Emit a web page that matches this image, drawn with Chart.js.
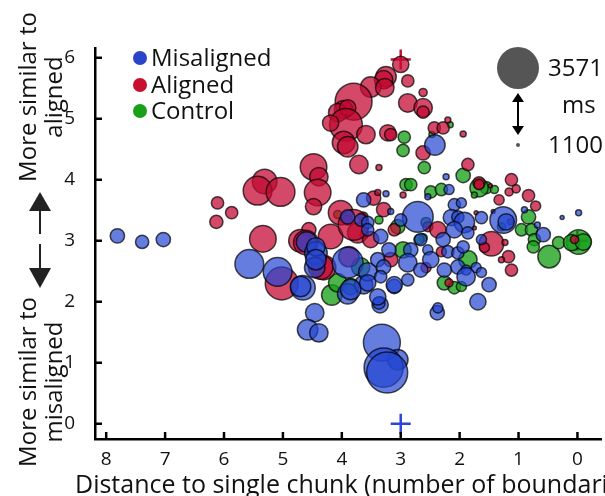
<!DOCTYPE html>
<html>
<head>
<meta charset="utf-8">
<title>Chunk distance bubble chart</title>
<script src="https://cdn.jsdelivr.net/npm/chart.js"></script>
<style>
  body { margin: 0; background: #fff; }
  #wrap { position: relative; width: 605px; height: 496px; overflow: hidden; font-family: "Open Sans", sans-serif; color: #111; }
  #chart { position: absolute; left: 0; top: 0; }
  .lbl { position: absolute; white-space: nowrap; font-size: 24px; line-height: 26px; }
  .side { position: absolute; text-align: center; font-size: 24px; line-height: 26px; transform: rotate(-90deg); white-space: nowrap; }
  .dot { position: absolute; width: 14px; height: 14px; border-radius: 50%; }
  #xtitle { position: absolute; left: 75px; top: 467px; font-size: 25px; line-height: 32px; white-space: nowrap; }
</style>
</head>
<body>
<div id="wrap">
  <canvas id="chart" width="605" height="496"></canvas>
  <div class="side" style="left:-60px; top:71px; width:200px;">More similar to<br>aligned</div>
  <div class="side" style="left:-60px; top:356px; width:200px;">More similar to<br>misaligned</div>
  <div class="dot" style="left:133px; top:51px; background:#2a45c8;"></div>
  <div class="lbl" style="left:151px; top:44px;">Misaligned</div>
  <div class="dot" style="left:133px; top:78px; background:#c8102e;"></div>
  <div class="lbl" style="left:151px; top:71px;">Aligned</div>
  <div class="dot" style="left:133px; top:104px; background:#18a018;"></div>
  <div class="lbl" style="left:151px; top:97px;">Control</div>
  <div class="lbl" style="left:548px; top:54px;">3571</div>
  <div class="lbl" style="left:562px; top:91px;">ms</div>
  <div class="lbl" style="left:548px; top:131px;">1100</div>
  <div id="xtitle">Distance to single chunk (number of boundaries)</div>
</div>
<script>
// distance to single chunk (x), similarity score (y), duration in ms (bubble size)
var misX = [7.81, 7.39, 7.03, 5.57, 5.09, 4.66, 4.60, 4.44, 4.46, 3.90, 3.63, 3.35, 3.11, 4.46, 4.58, 4.39,
  3.32, 3.05, 3.29, 3.23, 2.38, 1.69, 1.50, 2.42, 2.23, 2.71, 2.18, 2.54, 3.63, 3.25, 3.17, 2.09, 1.97,
  3.90, 3.68, 3.56, 3.00, 2.14, 2.03, 1.92, 2.09, 1.86, 3.34, 3.20, 2.83, 2.66, 2.54, 2.28, 2.20, 2.03,
  1.94, 3.90, 3.56, 3.39, 3.29, 2.88, 2.49, 2.66, 2.26, 2.03, 1.89, 3.85, 3.56, 3.34, 3.11, 2.88, 3.37,
  2.37, 1.63, 1.26, 1.21, 0.90, 0.68, 0.58, 1.63, 0.26, -0.02, 1.72, 1.63, 1.89, 4.44, 4.44, 4.70, 3.39, 3.56];
var misY = [3.08, 2.98, 3.02, 2.62, 2.49, 2.23, 2.98, 2.80, 2.56, 2.13, 2.28, 1.95, 2.25, 1.82, 1.54, 1.49,
  1.33, 1.05, 0.92, 0.84, 1.82, 2.00, 2.28, 4.57, 4.05, 3.39, 3.84, 3.72, 3.67, 3.77, 3.48, 3.59, 3.62,
  3.39, 3.34, 3.30, 3.34, 3.38, 3.39, 3.30, 3.18, 3.13, 3.07, 2.85, 2.85, 3.02, 2.85, 3.02, 2.82, 2.80,
  2.90, 2.64, 2.49, 2.69, 2.57, 2.64, 2.69, 2.52, 2.52, 2.57, 2.52, 2.20, 2.31, 2.41, 2.28, 2.36, 1.98,
  1.90, 3.38, 3.34, 3.31, 3.51, 3.26, 3.10, 3.02, 3.38, 3.46, 2.56, 2.48, 2.41, 2.90, 2.69, 2.25, 2.08, 3.18];
var misMs = [1770, 1700, 1770, 2710, 2710, 2440, 2170, 2310, 2170, 2170, 2040, 1900, 1770, 2040, 2170, 2040,
  3240, 2170, 3380, 3510, 1770, 1900, 1770, 2170, 1230, 2840, 1500, 1230, 1770, 1230, 1230, 1640, 1500,
  1770, 1640, 1640, 1640, 1900, 1640, 2170, 1900, 1640, 1770, 1770, 1770, 1640, 1500, 1770, 1640, 1640,
  1640, 2840, 2040, 1770, 1770, 2040, 1900, 1770, 1770, 1770, 1500, 2170, 1900, 1640, 1900, 1640, 1640,
  1500, 1640, 2570, 1900, 1230, 1230, 1770, 1500, 1100, 1230, 1500, 1500, 2040, 2040, 2170, 2170, 1900, 1640];

var aliX = [6.11, 5.87, 6.13, 5.31, 5.43, 5.04, 5.34, 4.48, 4.39, 4.41, 4.48, 4.56, 4.71, 5.02, 4.31, 3.00,
  3.25, 3.29, 3.51, 3.27, 2.88, 3.80, 3.97, 4.07, 3.90, 3.93, 4.19, 3.97, 3.90, 3.59, 2.88, 2.62, 2.62,
  2.62, 3.22, 3.17, 2.62, 2.43, 2.28, 3.71, 3.37, 1.94, 2.20, 1.86, 1.12, 1.67, 2.96, 3.46, 3.39, 3.29,
  4.02, 3.90, 3.64, 3.11, 2.54, 2.37, 4.19, 3.73, 3.51, 3.80, 2.31, 3.17, 2.57, 2.18, 1.67, 1.16, 1.04,
  1.33, 0.83, 0.71, 1.48, 1.72, 1.43, 1.14, 1.75, 1.46, 1.58, 1.23, 0.05, 1.17, 1.29, 1.12, 4.61, 4.36, 3.88];
var aliY = [3.62, 3.46, 3.31, 3.97, 3.82, 3.80, 3.03, 4.21, 4.05, 3.79, 3.56, 3.18, 3.00, 2.30, 2.56, 5.89,
  5.69, 5.64, 5.52, 5.51, 5.62, 5.28, 5.15, 5.10, 5.18, 4.90, 4.93, 4.61, 4.54, 4.74, 5.26, 5.43, 5.18,
  5.11, 4.77, 4.74, 4.44, 4.85, 4.85, 4.25, 4.20, 4.75, 4.98, 4.25, 4.00, 3.95, 3.75, 3.70, 3.79, 3.51,
  3.46, 3.34, 3.39, 3.18, 3.23, 3.18, 3.07, 3.13, 3.02, 3.26, 2.82, 2.69, 2.56, 2.31, 3.92, 3.80, 3.85,
  3.67, 3.74, 3.57, 3.90, 3.46, 3.48, 3.31, 3.21, 2.95, 2.89, 2.97, 3.02, 2.74, 2.69, 2.52, 2.97, 2.57, 2.74];
var aliMs = [1640, 1640, 1700, 2440, 2710, 2710, 2570, 2570, 2040, 2570, 1900, 1770, 2310, 2980, 2440, 1900,
  2170, 2040, 2170, 2040, 1640, 3240, 2040, 2040, 1900, 2980, 1900, 2310, 2170, 2040, 2040, 1370, 2040,
  1640, 1900, 1640, 1770, 1640, 1640, 2040, 1230, 1230, 1230, 1640, 1640, 1640, 1230, 1770, 1230, 1770,
  2440, 1500, 1500, 1640, 1500, 1900, 2440, 2170, 1900, 2840, 1500, 1770, 1500, 1370, 1500, 1370, 1370,
  1500, 1640, 1500, 1100, 1100, 1100, 1230, 1100, 2440, 1500, 1230, 1370, 1640, 1230, 1640, 2440, 2440, 2170];

var conX = [2.94, 2.96, 2.60, 2.47, 2.16, 1.94, 1.55, 4.17, 0.48, 2.91, 2.83, 2.49, 2.31, 4.07, 3.37, 3.05,
  2.57, 2.96, 2.62, 3.68, 4.07, 2.26, 2.09, 1.67, 1.75, 1.41, 1.29, 0.83, 0.95, 0.78, 0.73, 0.75, 0.32,
  -0.02, 0.10, -0.10, 1.86, 1.97, 3.85, 3.62, 2.69];
var conY = [4.70, 4.48, 4.20, 4.74, 4.90, 4.07, 3.87, 2.11, 2.74, 3.92, 3.92, 3.80, 3.84, 3.43, 3.34, 3.23,
  3.30, 2.85, 3.05, 2.57, 2.31, 2.31, 2.23, 3.87, 3.75, 3.84, 3.23, 3.39, 3.18, 3.18, 3.02, 2.90, 2.97,
  2.98, 2.97, 2.98, 2.69, 2.25, 2.25, 3.10, 3.02];
var conMs = [1640, 1640, 1640, 1230, 1230, 1770, 1640, 2170, 2310, 1640, 1640, 1640, 1640, 1370, 1370, 1770,
  1500, 1900, 1370, 2040, 2040, 1770, 1640, 2040, 1230, 1370, 1370, 1770, 1640, 1640, 1640, 1640, 1640,
  2440, 1900, 1900, 2040, 1500, 1900, 1370, 1500];

// group means drawn as crosses
var meanLabels = ['Misaligned', 'Aligned', 'Control'];
var meanX = [3, 3, 0];
var meanY = [0, 5.97, 3];

var xTicks = [0, 1, 2, 3, 4, 5, 6, 7, 8];
var yTicks = [0, 1, 2, 3, 4, 5, 6];
var msMin = 1100, msMax = 3571;

function rOf(ms) {
  return 2 + (ms - msMin) / (msMax - msMin) * 19;
}
function pts(xs, ys, ms) {
  return xs.map(function (x, i) { return { x: x, y: ys[i], r: rOf(ms[i]) }; });
}

var fontFam = '"Open Sans", sans-serif';

// inward ticks, side arrows and size key
var extras = {
  id: 'extras',
  afterDraw: function (chart) {
    var c = chart.ctx, xs = chart.scales.x, ys = chart.scales.y;
    var area = chart.chartArea;
    c.save();
    c.strokeStyle = '#000';
    c.lineWidth = 2.5;
    xTicks.forEach(function (v) {
      var px = xs.getPixelForValue(v);
      c.beginPath(); c.moveTo(px, area.bottom); c.lineTo(px, area.bottom - 7); c.stroke();
    });
    yTicks.forEach(function (v) {
      var py = ys.getPixelForValue(v);
      c.beginPath(); c.moveTo(area.left, py); c.lineTo(area.left + 7, py); c.stroke();
    });

    // up / down arrows beside the y axis
    c.fillStyle = '#222';
    c.strokeStyle = '#222';
    c.lineWidth = 2;
    c.beginPath(); c.moveTo(40, 192); c.lineTo(51, 211); c.lineTo(29, 211); c.closePath(); c.fill();
    c.beginPath(); c.moveTo(40, 210); c.lineTo(40, 234); c.stroke();
    c.beginPath(); c.moveTo(40, 244); c.lineTo(40, 269); c.stroke();
    c.beginPath(); c.moveTo(40, 288); c.lineTo(51, 268); c.lineTo(29, 268); c.closePath(); c.fill();

    // size key
    c.fillStyle = '#555';
    c.beginPath(); c.arc(518, 68, rOf(msMax), 0, Math.PI * 2); c.fill();
    c.beginPath(); c.arc(518, 145, rOf(msMin), 0, Math.PI * 2); c.fill();
    c.strokeStyle = '#000';
    c.fillStyle = '#000';
    c.beginPath(); c.moveTo(518, 96); c.lineTo(518, 132); c.stroke();
    c.beginPath(); c.moveTo(518, 93); c.lineTo(524, 102); c.lineTo(512, 102); c.closePath(); c.fill();
    c.beginPath(); c.moveTo(518, 135); c.lineTo(524, 126); c.lineTo(512, 126); c.closePath(); c.fill();
    c.restore();
  }
};

var border = 'rgba(0,0,0,0.7)';

new Chart(document.getElementById('chart').getContext('2d'), {
  type: 'bubble',
  data: {
    datasets: [
      { label: 'Misaligned', data: pts(misX, misY, misMs), backgroundColor: 'rgba(35,70,210,0.7)', borderColor: border, borderWidth: 1.5 },
      { label: 'Aligned', data: pts(aliX, aliY, aliMs), backgroundColor: 'rgba(195,10,50,0.74)', borderColor: border, borderWidth: 1.5 },
      { label: 'Control', data: pts(conX, conY, conMs), backgroundColor: 'rgba(25,160,25,0.78)', borderColor: border, borderWidth: 1.5 },
      {
        label: 'Means', type: 'scatter',
        data: meanX.map(function (x, i) { return { x: x, y: meanY[i] }; }),
        pointStyle: 'cross', pointRadius: 10, borderWidth: 2.5,
        borderColor: ['#2a45d8', '#c8102e', '#000']
      }
    ]
  },
  options: {
    responsive: false,
    animation: false,
    layout: { autoPadding: false, padding: { left: 55, top: 48, right: 4, bottom: 0 } },
    plugins: { legend: { display: false }, tooltip: { enabled: false } },
    scales: {
      x: {
        type: 'linear', reverse: true, min: -0.4, max: 8.19,
        afterBuildTicks: function (s) { s.ticks = xTicks.map(function (v) { return { value: v }; }); },
        afterFit: function (s) { s.height = 57; s.paddingLeft = 0; s.paddingRight = 0; },
        grid: { display: false },
        border: { display: true, color: '#000', width: 2.5 },
        ticks: { color: '#111', padding: 1, font: { family: fontFam, size: 19 } }
      },
      y: {
        type: 'linear', min: -0.25, max: 6.16,
        afterBuildTicks: function (s) { s.ticks = yTicks.map(function (v) { return { value: v }; }); },
        afterFit: function (s) { s.width = 40; s.paddingTop = 0; s.paddingBottom = 0; },
        grid: { display: false },
        border: { display: true, color: '#000', width: 2.5 },
        ticks: { color: '#111', padding: 12, font: { family: fontFam, size: 19 } }
      }
    }
  },
  plugins: [extras]
});
</script>
</body>
</html>
